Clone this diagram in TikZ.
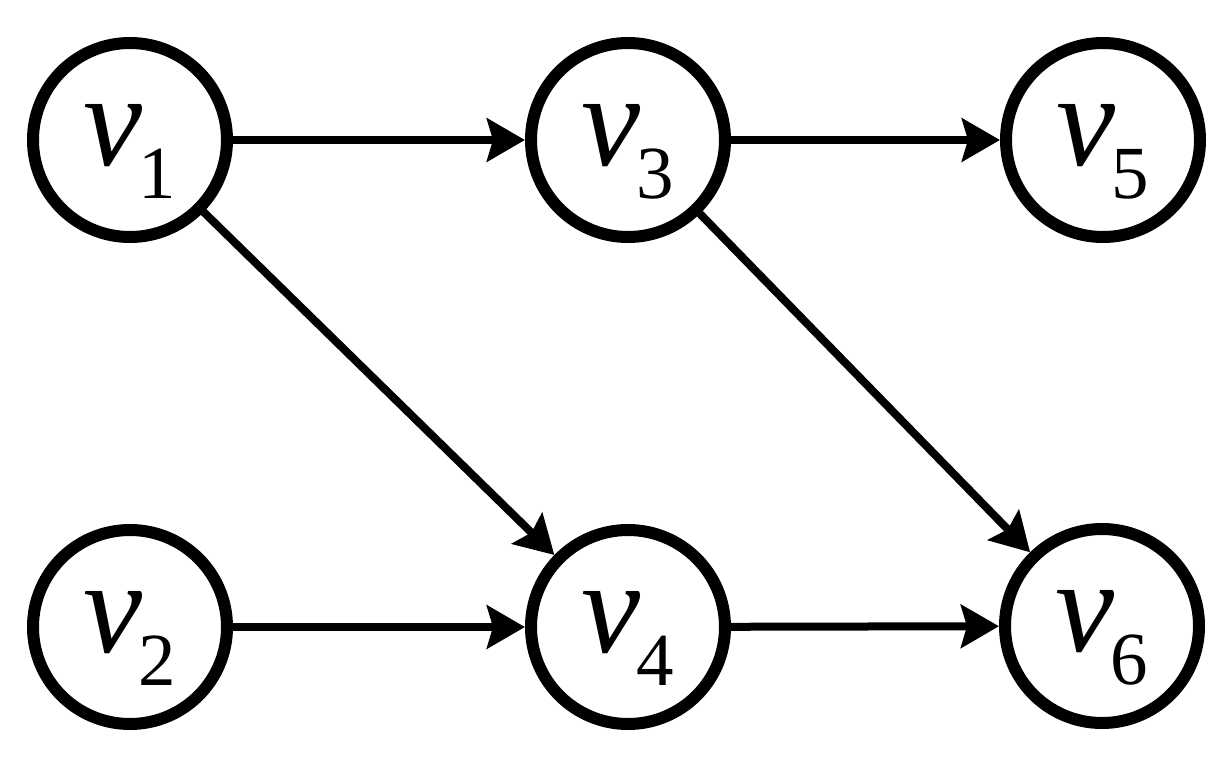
\documentclass[tikz,border=0pt]{standalone}
\usepackage{fontspec}
\setmainfont{Liberation Serif}
\usetikzlibrary{arrows.meta}
\newcommand{\vlab}[1]{\textit{v}\kern-2pt\raisebox{-16.5pt}{\fontsize{37.5}{40}\selectfont #1}}
\tikzset{
  vertex/.style={circle, draw, line width=6pt, minimum size=97pt, inner sep=0pt,
    font=\fontsize{66.5}{70}\selectfont, text height=30pt, text depth=5pt},
  edge/.style={line width=4pt, -{Stealth[length=19pt, width=21.5pt, inset=3pt]}}
}
\begin{document}
\begin{tikzpicture}[x=0.5pt, y=-0.5pt]
\useasboundingbox (0,0) rectangle (1226,760);
\node[vertex] (v1) at (130,140){\vlab{1}};
\node[vertex] (v2) at (130,627){\vlab{2}};
\node[vertex] (v3) at (628,140){\vlab{3}};
\node[vertex] (v4) at (628,627){\vlab{4}};
\node[vertex] (v5) at (1103,140){\vlab{5}};
\node[vertex] (v6) at (1102,626){\vlab{6}};
\draw[edge](v1) -- (v3);
\draw[edge](v1) -- (v4);
\draw[edge](v2) -- (v4);
\draw[edge](v3) -- (v5);
\draw[edge](v3) -- (v6);
\draw[edge](v4) -- (v6);
\end{tikzpicture}
\end{document}
